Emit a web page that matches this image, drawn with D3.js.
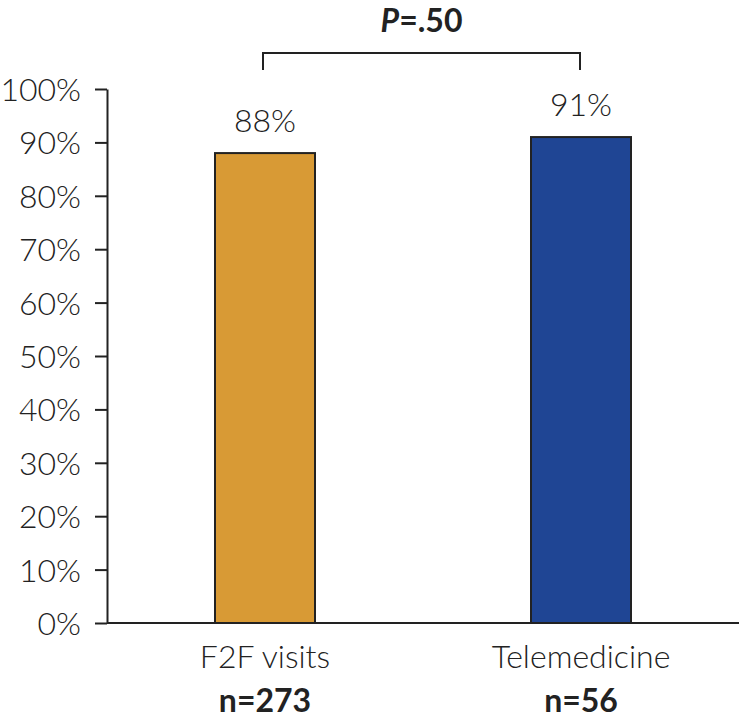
<!DOCTYPE html>
<html>
<head>
<meta charset="utf-8">
<script src="https://cdn.jsdelivr.net/npm/d3@7"></script>
<style>
  body { margin: 0; background: #fff; }
  svg { display: block; }
  text { font-family: Lato, "Open Sans", sans-serif; fill: #222; }
</style>
</head>
<body>
<svg id="chart" width="739" height="722"></svg>
<script>
const categories = ["F2F visits", "Telemedicine"];
const sampleSizes = ["n=273", "n=56"];
const values = [88, 91];
const colors = ["#D89A35", "#1F4594"];
const yTicks = [0, 10, 20, 30, 40, 50, 60, 70, 80, 90, 100];
const pLabel = ".50";

const svg = d3.select("#chart");
const mLeft = 107, mRight = 739, mTop = 89, mBottom = 623;

const x = d3.scalePoint().domain(categories).range([mLeft, mRight]).padding(0.5);
const y = d3.scaleLinear().domain([0, 100]).range([mBottom, mTop]);
const barW = 100;

// bars
svg.selectAll("rect.bar").data(values).join("rect")
  .attr("class", "bar")
  .attr("x", (d, i) => x(categories[i]) - barW / 2)
  .attr("width", barW)
  .attr("y", d => y(d))
  .attr("height", d => y(0) - y(d))
  .attr("fill", (d, i) => colors[i])
  .attr("stroke", "#222")
  .attr("stroke-width", 2);

// y axis
const yAxis = svg.append("g")
  .attr("transform", `translate(${mLeft},0)`)
  .call(d3.axisLeft(y).tickValues(yTicks).tickFormat(d => d + "%").tickSize(12).tickSizeOuter(0).tickPadding(14));
yAxis.select(".domain").attr("stroke", "#222").attr("stroke-width", 2);
yAxis.selectAll(".tick line").attr("stroke", "#222").attr("stroke-width", 2);
yAxis.selectAll(".tick text").attr("font-size", 32).attr("font-weight", 300)
  .attr("font-family", "Lato, sans-serif").attr("fill", "#222").attr("dy", "0.36em");

// x axis line
svg.append("line")
  .attr("x1", mLeft).attr("x2", mRight)
  .attr("y1", y(0)).attr("y2", y(0))
  .attr("stroke", "#222").attr("stroke-width", 2);

// value labels
svg.selectAll("text.val").data(values).join("text")
  .attr("class", "val")
  .attr("x", (d, i) => x(categories[i]))
  .attr("y", d => y(d) - 21)
  .attr("text-anchor", "middle")
  .attr("font-size", 32).attr("font-weight", 300)
  .text(d => d + "%");

// category labels
svg.selectAll("text.cat").data(categories).join("text")
  .attr("class", "cat")
  .attr("x", d => x(d))
  .attr("y", 668)
  .attr("text-anchor", "middle")
  .attr("font-size", 32).attr("font-weight", 300)
  .text(d => d);

svg.selectAll("text.n").data(sampleSizes).join("text")
  .attr("class", "n")
  .attr("x", (d, i) => x(categories[i]))
  .attr("y", 712)
  .attr("text-anchor", "middle")
  .attr("font-size", 32).attr("font-weight", 700)
  .text(d => d);

// bracket
const bx1 = x(categories[0]) - 2, bx2 = x(categories[1]) - 1;
svg.append("path")
  .attr("d", `M${bx1},70 V53 H${bx2} V70`)
  .attr("fill", "none").attr("stroke", "#222").attr("stroke-width", 2);

const pt = svg.append("text")
  .attr("x", (bx1 + bx2) / 2)
  .attr("y", 32)
  .attr("text-anchor", "middle")
  .attr("font-size", 32).attr("font-weight", 700);
pt.append("tspan").attr("font-style", "italic").text("P");
pt.append("tspan").text("=" + pLabel);
</script>
</body>
</html>
